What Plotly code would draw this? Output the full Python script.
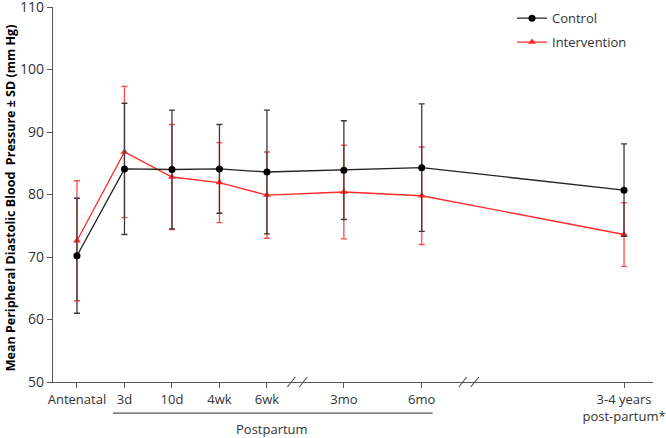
import plotly.graph_objects as go

# ---- data ----
categories = ["Antenatal", "3d", "10d", "4wk", "6wk", "3mo", "6mo", "3-4 years<br>post-partum*"]
# positions on the broken time axis (category index units, gaps for the breaks)
positions = [0, 1, 2, 3, 4, 5.62, 7.26, 11.52]
breaks = [4.64, 8.25]

control_mean = [70.2, 84.1, 84.0, 84.1, 83.6, 83.9, 84.3, 80.7]
control_sd   = [9.2, 10.5, 9.5, 7.1, 9.9, 7.9, 10.2, 7.4]

interv_mean = [72.6, 86.8, 82.8, 81.9, 79.9, 80.4, 79.8, 73.6]
interv_sd   = [9.6, 10.5, 8.4, 6.4, 6.9, 7.5, 7.8, 5.1]

y_ticks = [50, 60, 70, 80, 90, 100, 110]

AX = "#555555"
RED = "#ff2a2a"
FONT = "Open Sans"

fig = go.Figure()

fig.add_trace(go.Scatter(
    x=positions, y=interv_mean, name="Intervention", mode="lines+markers",
    line=dict(color=RED, width=1.3),
    marker=dict(symbol="triangle-up", size=7, color=RED),
    error_y=dict(type="data", array=interv_sd, color="#ff4a4a", thickness=1.3, width=3),
    legendrank=2, legendgroup="i",
))
fig.add_trace(go.Scatter(
    x=positions, y=control_mean, name="Control", mode="lines+markers",
    line=dict(color="#222222", width=1.3),
    marker=dict(symbol="circle", size=7, color="black"),
    error_y=dict(type="data", array=control_sd, color="#3a3a3a", thickness=1.3, width=3),
    legendrank=1, legendgroup="c",
))

# axis break marks (double slashes)
shapes = []
for b in breaks:
    for off in (-6, 6):
        shapes.append(dict(type="line", xref="x", yref="paper",
                           xsizemode="pixel", ysizemode="pixel",
                           xanchor=b, yanchor=0,
                           x0=off - 4, x1=off + 4, y0=-5, y1=5,
                           line=dict(color=AX, width=1.2)))
# postpartum bracket line
shapes.append(dict(type="line", xref="x", yref="paper",
                   x0=0.76, x1=7.49, y0=-0.083, y1=-0.083,
                   line=dict(color=AX, width=1.2)))

fig.update_layout(
    width=666, height=438,
    margin=dict(l=53, r=13, t=7, b=56, autoexpand=False),
    paper_bgcolor="white", plot_bgcolor="white",
    font=dict(family=FONT, color="#333333", size=13),
    showlegend=True,
    legend=dict(x=0.765, y=1.01, xanchor="left", yanchor="top",
                font=dict(size=13, color="#333333"), bgcolor="rgba(0,0,0,0)",
                traceorder="grouped", tracegroupgap=4, itemwidth=30),
    shapes=shapes,
    annotations=[
        dict(text="Postpartum", xref="x", yref="paper", x=4.1, y=-0.126,
             showarrow=False, font=dict(size=13, color="#333333"),
             xanchor="center", yanchor="middle"),
        dict(text="<b>Mean Peripheral Diastolic Blood  Pressure \u00b1 SD (mm Hg)</b>",
             xref="paper", yref="paper", x=-43 / 600, y=0.49, textangle=-90,
             showarrow=False, font=dict(size=12.5, color="black", family=FONT),
             xanchor="center", yanchor="middle"),
    ],
)

fig.update_xaxes(
    range=[-0.505, 12.13], tickvals=positions, ticktext=categories,
    showline=True, linecolor=AX, linewidth=1.2, automargin=False,
    ticks="outside", ticklen=5, tickcolor=AX, tickwidth=1.2,
    showgrid=False, zeroline=False, tickfont=dict(size=13, color="#333333"),
    ticklabeloverflow="allow",
)
fig.update_yaxes(
    range=[50, 110], tickvals=y_ticks, automargin=False,
    showline=True, linecolor=AX, linewidth=1.2,
    ticks="outside", ticklen=5, tickcolor=AX, tickwidth=1.2,
    showgrid=False, zeroline=False, tickfont=dict(size=14, color="#333333"),
    ticklabeloverflow="allow",
)

fig.write_html("out.html", config={"displayModeBar": False},
               post_script="document.body.style.margin='0';document.body.style.overflow='hidden';")
